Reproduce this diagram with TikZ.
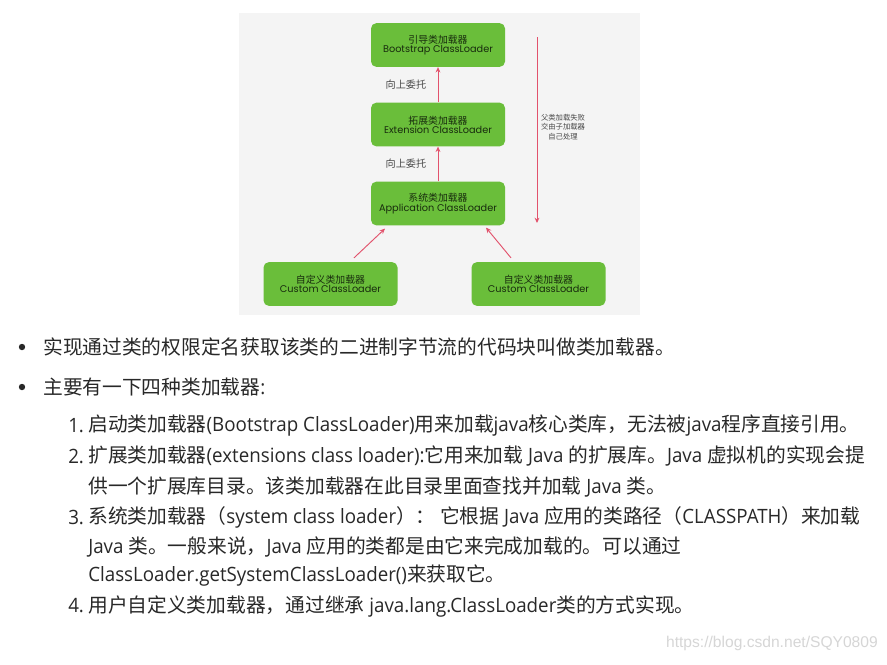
\documentclass[tikz,border=0pt]{standalone}
\usepackage{fontspec}
\setmainfont{Noto Sans CJK SC}
\newfontfamily\engfont[FakeStretch=0.95]{Open Sans}
\newfontfamily\geofont{Poppins}
\newfontfamily\webfont{Liberation Sans}
\usetikzlibrary{arrows.meta, positioning, calc}

\definecolor{loadergreen}{RGB}{106,190,58}
\definecolor{loadertext}{RGB}{24,44,14}
\definecolor{delegred}{RGB}{226,82,108}
\definecolor{panelgray}{RGB}{244,244,244}
\definecolor{bodytext}{RGB}{40,40,40}

\newcommand{\eng}[1]{{\engfont #1}}
\newcommand{\boxeng}[1]{{\geofont\fontsize{7.3}{7.4}\selectfont #1}}

\tikzset{
  loader/.style={fill=loadergreen, rounded corners=4pt, minimum width=100.5pt, minimum height=32.8pt,
    inner sep=0pt, align=center, text=loadertext, font=\fontsize{7.4}{6.9}\selectfont},
  delegate/.style={draw=delegred, line width=0.7pt, -{Stealth[length=4pt, width=3.6pt]}},
  hint/.style={inner sep=0pt, text=black!72, font=\fontsize{7.6}{8}\selectfont},
  bodyline/.style={anchor=west, inner sep=0pt, text=bodytext, font=\fontsize{14.8}{18}\selectfont},
}

\begin{document}
\begin{tikzpicture}[x=0.75pt, y=-0.75pt]
  \useasboundingbox (0,0) rectangle (887,664);
  \fill[white] (0,0) rectangle (887,664);

  % diagram panel
  \fill[panelgray] (239,13) rectangle (640,315);

  % loaders
  \node[loader] (boot) at (438,45) {引导类加载器\\\boxeng{Bootstrap ClassLoader}};
  \node[loader] (ext) at (438,124.5) {拓展类加载器\\\boxeng{Extension ClassLoader}};
  \node[loader] (app) at (438,203.5) {系统类加载器\\\boxeng{Application ClassLoader}};
  \node[loader] (cusl) at (330.5,284) {自定义类加载器\\\boxeng{Custom ClassLoader}};
  \node[loader] (cusr) at (538.5,284) {自定义类加载器\\\boxeng{Custom ClassLoader}};

  % delegation upwards
  \draw[delegate] (ext) -- node[hint, left=8.5pt] (up1) {向上委托} (boot);
  \draw[delegate] (app) -- node[hint, left=8.5pt] (up2) {向上委托} (ext);
  \draw[delegate] ($(cusl.north)+(23.5,-4)$) -- ($(app.south)+(-53,3)$);
  \draw[delegate] ($(cusr.north)+(-27.5,-4)$) -- ($(app.south)+(48,2)$);

  % fall back downwards
  \coordinate (failtop) at (537,37);
  \coordinate (failend) at (537,223);
  \draw[delegate] (failtop) -- (failend);
  \node[hint, align=center, font=\fontsize{5.5}{7.1}\selectfont] (failnote) at (563,127)
    {父类加载失败\\交由子加载器\\自己处理};

  % text below
  \fill[bodytext] (22,347) circle (2.4pt);
  \node[bodyline] (intro) at (43,347) {实现通过类的权限定名获取该类的二进制字节流的代码块叫做类加载器。};
  \fill[bodytext] (22,387) circle (2.4pt);
  \node[bodyline] (kinds) at (43,387) {主要有一下四种类加载器\eng{:}};

  \node[bodyline] (num1) at (68,426) {\eng{1.}};
  \node[bodyline] (item1) at (88,426) {启动类加载器\eng{(Bootstrap ClassLoader)}用来加载\eng{java}核心类库，无法被\eng{java}程序直接引用。};
  \node[bodyline] (num2) at (68,456) {\eng{2.}};
  \node[bodyline] (item2) at (88,456) {扩展类加载器\eng{(extensions class loader):}它用来加载\eng{ Java }的扩展库。\eng{Java }虚拟机的实现会提};
  \node[bodyline] (item2b) at (88,487) {供一个扩展库目录。该类加载器在此目录里面查找并加载\eng{ Java }类。};
  \node[bodyline] (num3) at (68,517) {\eng{3.}};
  \node[bodyline] (item3) at (88,517) {系统类加载器（\eng{system class loader}）： 它根据\eng{ Java }应用的类路径（\eng{CLASSPATH}）来加载};
  \node[bodyline] (item3b) at (88,547) {\eng{Java }类。一般来说，\eng{Java }应用的类都是由它来完成加载的。可以通过};
  \node[bodyline] (item3c) at (88,576) {\eng{ClassLoader.getSystemClassLoader()}来获取它。};
  \node[bodyline] (num4) at (68,606) {\eng{4.}};
  \node[bodyline] (item4) at (88,606) {用户自定义类加载器，通过继承\eng{ java.lang.ClassLoader}类的方式实现。};

  \node[anchor=east, inner sep=0pt, text=black!16, font=\webfont\fontsize{11.7}{12}\selectfont] (mark)
    at (878,643) {https://blog.csdn.net/SQY0809};
\end{tikzpicture}
\end{document}
